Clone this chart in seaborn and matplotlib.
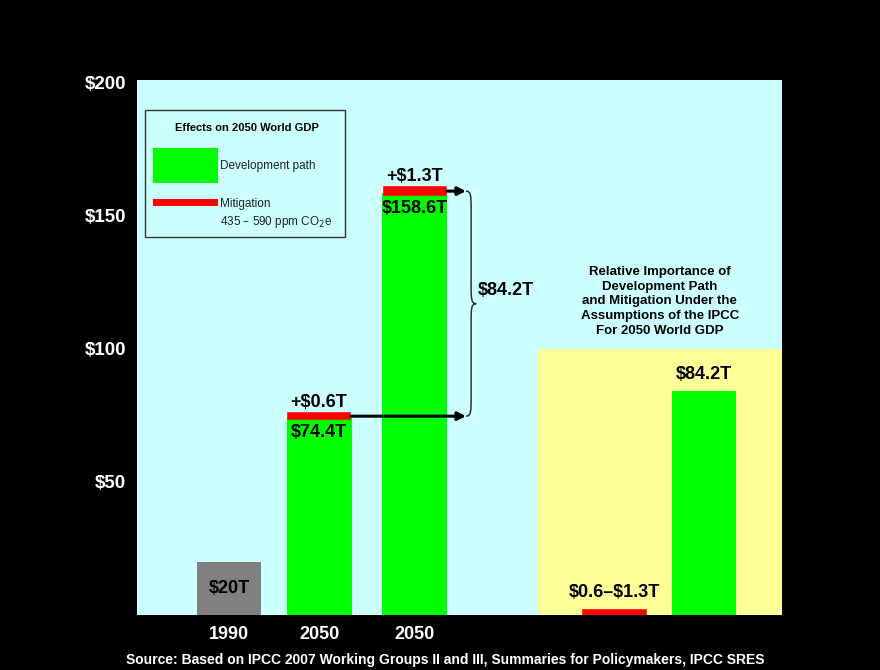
import numpy as np
import pandas as pd
import matplotlib
matplotlib.use("Agg")
import matplotlib.pyplot as plt
from matplotlib.patches import Rectangle, PathPatch
from matplotlib.path import Path
import seaborn as sns

# ---------------- data ----------------
YEARS = ["1990", "2050", "2050"]
GDP = [20.0, 74.4, 158.6]              # trillion $
MITIGATION = [0.6, 1.3]                # cost of mitigation for the two 2050 paths
DEV_PATH_DIFF = 84.2                   # difference between development paths
MITIG_RANGE = [0.6, 1.3]
Y_TICKS = [50, 100, 150, 200]
Y_LABELS = ["$50", "$100", "$150", "$200"]

# ---------------- layout ----------------
POS = [0.0, 0.97, 2.0, 4.15, 5.11]
BAR_W = 0.69
XLIM = (-0.99, 5.95)
YLIM = (0, 201)
PANEL_LEFT = 3.32
PANEL_TOP = 100
BRACE_X = 2.55
CAP_LW = 4.0  # points; thickens the thin mitigation bars so they stay visible

CYAN = "#CCFFFF"
YELLOW = "#FFFF99"
GREEN = "#00FF00"
RED = "#FF0000"
GRAY = "#808080"

sns.set_theme(style="white")
plt.rcParams["font.family"] = ["Liberation Sans", "DejaVu Sans"]

fig = plt.figure(figsize=(8.8, 6.7), dpi=100, facecolor="black")
ax = fig.add_axes([137 / 880, 55 / 670, 645 / 880, 535 / 670])
ax.set_facecolor(CYAN)

# yellow panel
ax.axvspan(PANEL_LEFT, XLIM[1], ymin=0, ymax=PANEL_TOP / YLIM[1], color=YELLOW, zorder=0.5, lw=0)

# main bars
main_pos = [POS[0], POS[1], POS[2], POS[4]]
df = pd.DataFrame({
    "pos": main_pos,
    "value": GDP + [DEV_PATH_DIFF],
    "kind": ["base", "dev", "dev", "dev"],
})
min_sp = np.min(np.diff(sorted(POS)))
sns.barplot(data=df, x="pos", y="value", hue="kind", native_scale=True, dodge=False,
            palette={"base": GRAY, "dev": GREEN}, saturation=1,
            width=BAR_W / min_sp, errorbar=None, legend=False, ax=ax,
            edgecolor="none", linewidth=0, zorder=2)

# mitigation bars (caps on 2050 bars + right panel range bar)
cap_pos = POS[1:4]
cap_val = MITIGATION + [MITIG_RANGE[1]]
cap_bottom = GDP[1:3] + [0]
cap_w_px = BAR_W * 93 - CAP_LW * 100 / 72
sns.barplot(x=cap_pos, y=cap_val, bottom=cap_bottom, native_scale=True,
            color=RED, saturation=1, width=(cap_w_px / 93) / np.min(np.diff(cap_pos)),
            errorbar=None, ax=ax, edgecolor=RED, linewidth=CAP_LW, zorder=3)

ax.set_xlim(*XLIM)
ax.set_ylim(*YLIM)
for s in ax.spines.values():
    s.set_visible(False)
ax.set_xlabel("")
ax.set_ylabel("")
ax.set_xticks(POS[:3])
ax.set_xticklabels(YEARS, color="white", fontweight="bold", fontsize=13)
ax.set_yticks(Y_TICKS)
ax.set_yticklabels(Y_LABELS, color="white", fontweight="bold", fontsize=13.5)
ax.tick_params(axis="both", length=0, pad=8)
ax.grid(False)

bold = dict(fontweight="bold", fontsize=13, color="black", ha="center", zorder=5)
ax.text(POS[0], GDP[0] / 2, f"${GDP[0]:.0f}T", va="center", **bold)
for i in (1, 2):
    ax.text(POS[i], GDP[i] - 2.5, f"${GDP[i]}T", va="top", **bold)
    ax.text(POS[i], GDP[i] + MITIGATION[i - 1] + 1.5, f"+${MITIGATION[i - 1]}T", va="bottom", **bold)
ax.text(POS[3], MITIG_RANGE[1] + 4, f"\\${MITIG_RANGE[0]}–\\${MITIG_RANGE[1]}T", va="bottom", **bold)
ax.text(POS[4], DEV_PATH_DIFF + 3, f"${DEV_PATH_DIFF}T", va="bottom", **bold)

# arrows from bars to brace
for i in (1, 2):
    y = GDP[i] + MITIGATION[i - 1] / 2
    ax.annotate("", xy=(BRACE_X, y), xytext=(POS[i] + BAR_W / 2, y),
                arrowprops=dict(arrowstyle="-|>", color="black", lw=2.2, mutation_scale=12,
                                shrinkA=0, shrinkB=0), zorder=6)

# curly brace
ytop = GDP[2] + MITIGATION[1] / 2
ybot = GDP[1] + MITIGATION[0] / 2
ymid = (ytop + ybot) / 2
d = 0.055
verts = [
    (BRACE_X, ytop),
    (BRACE_X + d, ytop), (BRACE_X + d, ytop - 2), (BRACE_X + d, ytop - 7),
    (BRACE_X + d, ymid + 7),
    (BRACE_X + d, ymid + 2), (BRACE_X + d, ymid), (BRACE_X + 2 * d, ymid),
    (BRACE_X + d, ymid), (BRACE_X + d, ymid - 2), (BRACE_X + d, ymid - 7),
    (BRACE_X + d, ybot + 7),
    (BRACE_X + d, ybot + 2), (BRACE_X + d, ybot), (BRACE_X, ybot),
]
codes = [Path.MOVETO,
         Path.CURVE4, Path.CURVE4, Path.CURVE4,
         Path.LINETO,
         Path.CURVE4, Path.CURVE4, Path.CURVE4,
         Path.CURVE4, Path.CURVE4, Path.CURVE4,
         Path.LINETO,
         Path.CURVE4, Path.CURVE4, Path.CURVE4]
ax.add_patch(PathPatch(Path(verts, codes), fill=False, edgecolor="#333333", lw=1.1, zorder=6))
ax.text(BRACE_X + 2 * d + 0.02, ymid + 5, f"${DEV_PATH_DIFF}T", ha="left", va="center",
        fontweight="bold", fontsize=13, color="black", zorder=6)

# right panel title
ax.text((PANEL_LEFT + XLIM[1]) / 2, PANEL_TOP + 4.5,
        "Relative Importance of\nDevelopment Path\nand Mitigation Under the\nAssumptions of the IPCC\nFor 2050 World GDP",
        ha="center", va="bottom", fontsize=9.5, fontweight="bold", color="black",
        linespacing=1.3, zorder=5)

# legend box (axes fraction)
T = ax.transAxes
ax.add_patch(Rectangle((0.0124, 0.7065), 0.31, 0.2375, transform=T, facecolor=CYAN,
                       edgecolor="#333333", lw=1, zorder=7))
ax.text(0.1705, 0.910, "Effects on 2050 World GDP", transform=T, ha="center", va="center",
        fontsize=8, fontweight="bold", color="black", zorder=8)
ax.add_patch(Rectangle((0.0248, 0.8075), 0.1008, 0.0654, transform=T, facecolor=GREEN,
                       edgecolor="none", zorder=8))
ax.text(0.1287, 0.839, "Development path", transform=T, ha="left", va="center",
        fontsize=8.5, color="#222222", zorder=8)
ax.add_patch(Rectangle((0.0248, 0.7645), 0.1008, 0.0131, transform=T, facecolor=RED,
                       edgecolor="none", zorder=8))
ax.text(0.1287, 0.768, "Mitigation", transform=T, ha="left", va="center",
        fontsize=8.5, color="#222222", zorder=8)
ax.text(0.1287, 0.734, "435 – 590 ppm CO$_2$e", transform=T, ha="left", va="center",
        fontsize=8.5, color="#222222", zorder=8)

fig.text(445 / 880, 1 - 660 / 670,
         "Source: Based on IPCC 2007 Working Groups II and III, Summaries for Policymakers, IPCC SRES",
         ha="center", va="center", color="white", fontweight="bold", fontsize=10)

fig.savefig("out.png", dpi=100, facecolor="black")
